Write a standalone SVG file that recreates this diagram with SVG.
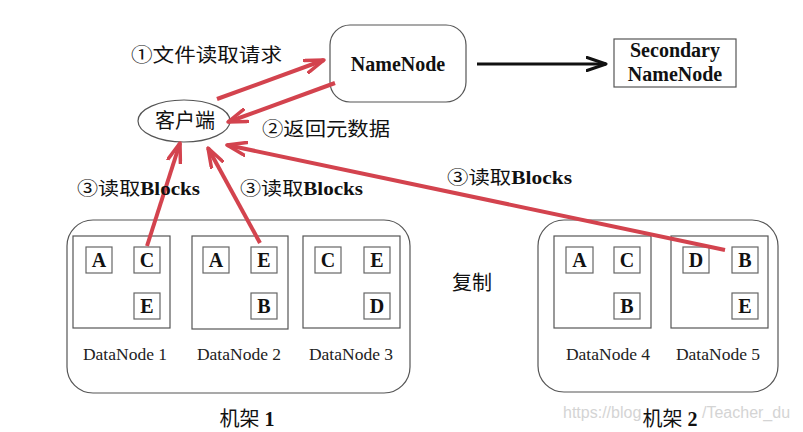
<svg xmlns="http://www.w3.org/2000/svg" width="803" height="432" viewBox="0 0 803 432">
<style>
.box{fill:#fff;stroke:#555;stroke-width:1.2}
.blk{fill:#fff;stroke:#666;stroke-width:1.2}
.bl{font-family:"Liberation Serif",serif;font-weight:bold;font-size:20px;fill:#111;text-anchor:middle}
.dn{font-family:"Liberation Serif",serif;font-size:17.5px;fill:#222;text-anchor:middle}
.nn{font-family:"Liberation Serif",serif;font-weight:bold;font-size:20px;fill:#111;text-anchor:middle}
.cn{font-family:"Liberation Serif","Noto Sans CJK SC",sans-serif;fill:#111}
.rk{font-family:"Liberation Serif","Noto Sans CJK SC",sans-serif;font-size:20px;fill:#111;text-anchor:middle}
.b{font-weight:bold}
.wm{font-family:"Liberation Sans",sans-serif;font-size:16px;fill:#d4d4d4}
.red{stroke:#d3434e;stroke-width:4;fill:none;marker-end:url(#ra)}
</style>
<defs>
<marker id="ra" markerUnits="userSpaceOnUse" viewBox="0 0 22 16" refX="20" refY="8" markerWidth="22" markerHeight="16" orient="auto">
<path d="M1,1.5 L20,8 L1,14.5" fill="none" stroke="#d3434e" stroke-width="3.5" stroke-linecap="round" stroke-linejoin="round"/>
</marker>
<marker id="ka" markerUnits="userSpaceOnUse" viewBox="0 0 22 16" refX="20" refY="8" markerWidth="22" markerHeight="16" orient="auto">
<path d="M1,1.5 L20,8 L1,14.5" fill="none" stroke="#111" stroke-width="3" stroke-linecap="round" stroke-linejoin="round"/>
</marker>
</defs>
<rect width="803" height="432" fill="#fff"/>

<g id="rack1">
<rect class="box" x="67" y="220" width="343" height="173" rx="26"/>
<text class="rk" x="247" y="426">机架 <tspan class="b">1</tspan></text>
</g>
<g id="rack2">
<rect class="box" x="538" y="220" width="240" height="172" rx="26"/>
<text class="wm" x="563" y="418">https://blog</text>
<text class="wm" x="702" y="418">/Teacher_du</text>
<text class="rk" x="670" y="426">机架 <tspan class="b">2</tspan></text>
</g>

<g id="datanode1">
<rect class="box" x="73" y="236" width="97" height="92"/>
<rect class="blk" x="86" y="247" width="26" height="26"/><text class="bl" x="99" y="267">A</text>
<rect class="blk" x="134" y="247" width="26" height="26"/><text class="bl" x="147" y="267">C</text>
<rect class="blk" x="134" y="293" width="26" height="26"/><text class="bl" x="147" y="313">E</text>
<text class="dn" x="125" y="360">DataNode 1</text>
</g>
<g id="datanode2">
<rect class="box" x="192" y="236" width="96" height="93"/>
<rect class="blk" x="203" y="247" width="26" height="26"/><text class="bl" x="216" y="267">A</text>
<rect class="blk" x="251" y="247" width="26" height="26"/><text class="bl" x="264" y="267">E</text>
<rect class="blk" x="251" y="293" width="26" height="26"/><text class="bl" x="264" y="313">B</text>
<text class="dn" x="239" y="360">DataNode 2</text>
</g>
<g id="datanode3">
<rect class="box" x="303" y="236" width="97" height="92"/>
<rect class="blk" x="315" y="247" width="26" height="26"/><text class="bl" x="328" y="267">C</text>
<rect class="blk" x="364" y="247" width="26" height="26"/><text class="bl" x="377" y="267">E</text>
<rect class="blk" x="364" y="293" width="26" height="26"/><text class="bl" x="377" y="313">D</text>
<text class="dn" x="351" y="360">DataNode 3</text>
</g>
<g id="datanode4">
<rect class="box" x="554" y="236" width="97" height="92"/>
<rect class="blk" x="566" y="247" width="27" height="26"/><text class="bl" x="579.5" y="267">A</text>
<rect class="blk" x="614" y="247" width="26" height="26"/><text class="bl" x="627" y="267">C</text>
<rect class="blk" x="614" y="293" width="26" height="26"/><text class="bl" x="627" y="313">B</text>
<text class="dn" x="608" y="360">DataNode 4</text>
</g>
<g id="datanode5">
<rect class="box" x="671" y="236" width="97" height="92"/>
<rect class="blk" x="683" y="247" width="26" height="26"/><text class="bl" x="696" y="267">D</text>
<rect class="blk" x="732" y="247" width="26" height="26"/><text class="bl" x="745" y="267">B</text>
<rect class="blk" x="732" y="293" width="26" height="26"/><text class="bl" x="745" y="313">E</text>
<text class="dn" x="718" y="360">DataNode 5</text>
</g>

<g id="namenode">
<rect class="box" x="330" y="25" width="136" height="77" rx="20"/>
<text class="nn" x="398" y="71">NameNode</text>
</g>
<g id="secondary">
<rect class="box" x="614" y="39" width="122" height="48"/>
<text class="nn" x="675" y="57">Secondary</text>
<text class="nn" x="675" y="81">NameNode</text>
</g>
<g id="client">
<ellipse class="box" cx="184" cy="121" rx="46" ry="21"/>
<text class="cn" x="185" y="128" font-size="20" text-anchor="middle">客户端</text>
</g>

<g id="connectors">
<line x1="477" y1="64" x2="606" y2="64" stroke="#111" stroke-width="3" marker-end="url(#ka)"/>
<line class="red" x1="217" y1="99" x2="324" y2="60"/>
<line class="red" x1="335" y1="83" x2="228" y2="122"/>
<line class="red" x1="147" y1="246" x2="180" y2="143"/>
<line class="red" x1="260" y1="243" x2="208" y2="148"/>
<line class="red" x1="725" y1="250" x2="227" y2="145"/>
</g>

<g id="labels">
<text class="cn" x="131" y="62" font-size="19" textLength="151" lengthAdjust="spacingAndGlyphs">①文件读取请求</text>
<text class="cn" x="262" y="136" font-size="19" textLength="128" lengthAdjust="spacingAndGlyphs">②返回元数据</text>
<text class="cn" x="77" y="195" font-size="18.5" textLength="123" lengthAdjust="spacingAndGlyphs">③读取<tspan class="b">Blocks</tspan></text>
<text class="cn" x="240" y="195" font-size="18.5" textLength="123" lengthAdjust="spacingAndGlyphs">③读取<tspan class="b">Blocks</tspan></text>
<text class="cn" x="447" y="184" font-size="18.5" textLength="125" lengthAdjust="spacingAndGlyphs">③读取<tspan class="b">Blocks</tspan></text>
<text class="cn" x="452" y="290" font-size="20">复制</text>
</g>
</svg>
